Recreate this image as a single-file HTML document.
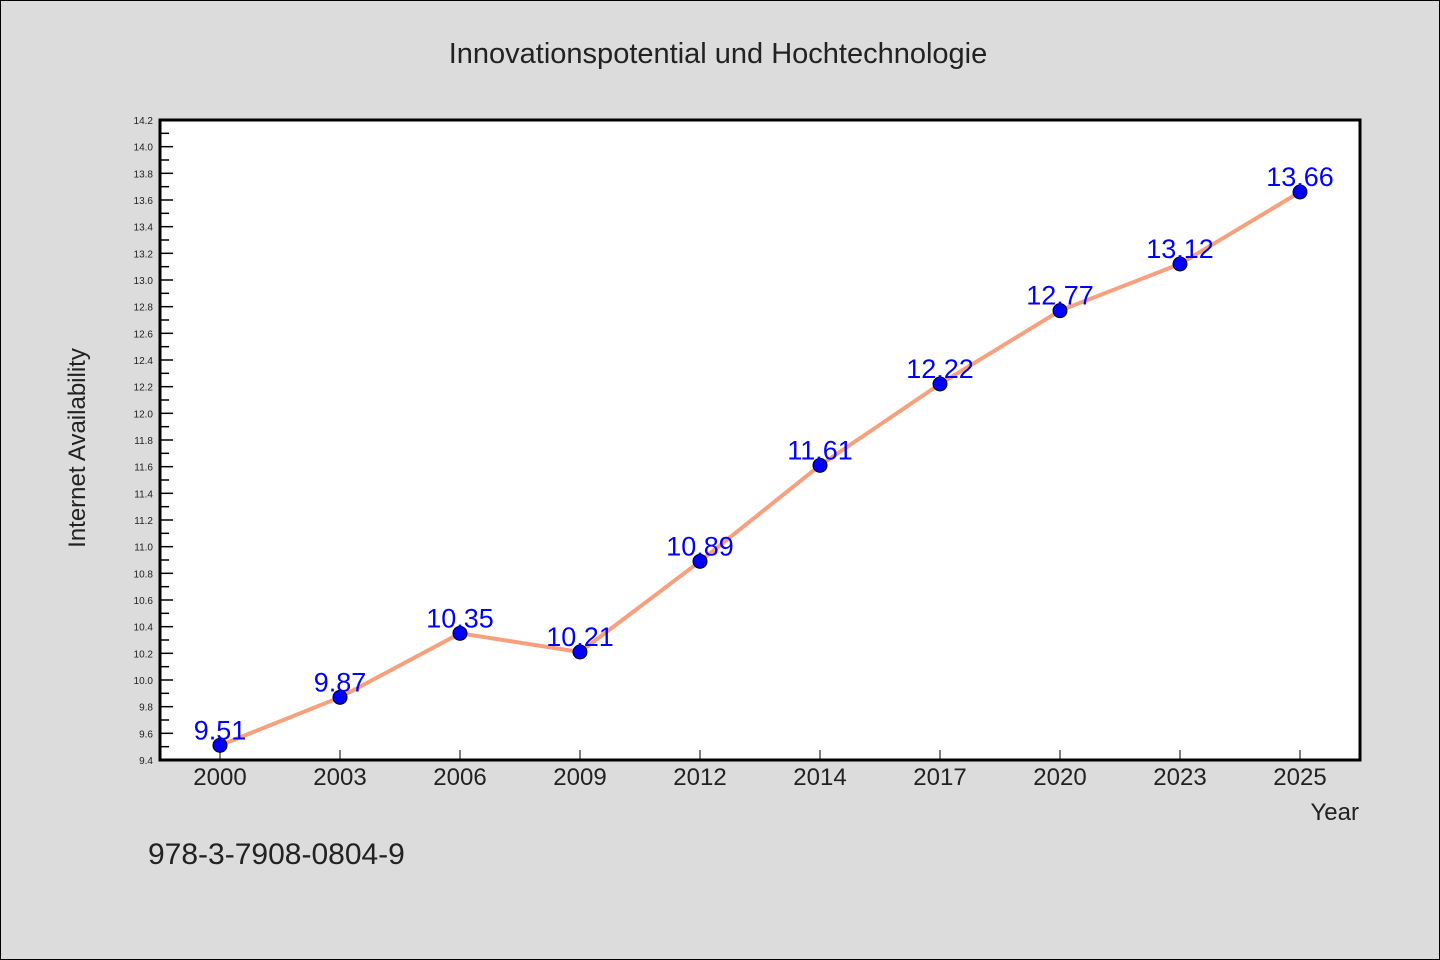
<!DOCTYPE html>
<html><head><meta charset="utf-8"><style>
html,body{margin:0;padding:0;background:#dcdcdc;}
svg{display:block;font-family:"WenQuanYi Zen Hei","Liberation Sans",sans-serif;}
</style></head><body>
<svg id="chart" width="1440" height="960">
<rect x="0.5" y="0.5" width="1439" height="959" fill="#dcdcdc" stroke="#000"/>
<text x="718" y="63" text-anchor="middle" font-size="29" fill="#222">Innovationspotential und Hochtechnologie</text>
<rect x="160" y="120" width="1200" height="640" fill="#fff" stroke="#000" stroke-width="3"/>
<g id="yticks"></g>
<g id="xticks"></g>
<g id="series"></g>
<text transform="translate(85,448) rotate(-90)" text-anchor="middle" font-size="24" fill="#222">Internet Availability</text>
<text x="1359" y="820" text-anchor="end" font-size="24" fill="#222">Year</text>
<text x="148" y="864" font-size="30" fill="#222">978-3-7908-0804-9</text>
</svg>
<script>
const categories=["2000","2003","2006","2009","2012","2014","2017","2020","2023","2025"];
const values=[9.51,9.87,10.35,10.21,10.89,11.61,12.22,12.77,13.12,13.66];
const yMin=9.4,yMax=14.2;
const NS="http://www.w3.org/2000/svg";
const L=160,R=1360,T=120,B=760;
const step=(R-L)/categories.length;
const xs=i=>L+step*(i+0.5);
const ys=v=>B-(v-yMin)/(yMax-yMin)*(B-T);
function mk(t,a,p){const e=document.createElementNS(NS,t);for(const k in a)e.setAttribute(k,a[k]);p.appendChild(e);return e;}
const yt=document.getElementById('yticks');
for(let k=0;k<=48;k++){
  const v=yMin+k*0.1,y=ys(v),major=k%2===0;
  const ln=mk('line',{x1:L,x2:L+(major?13:9),y1:y,y2:y,stroke:'#000','stroke-width':1.5},yt);
  
  
  if(major){
    const t=mk('text',{x:153,y:y+4,'text-anchor':'end','font-size':10,fill:'#222'},yt);
    t.textContent=v.toFixed(1);
    
    
  }
}
const xt=document.getElementById('xticks');
categories.forEach((c,i)=>{
  const x=xs(i);
  const ln=mk('line',{x1:x,x2:x,y1:B,y2:B-10,stroke:'#000','stroke-width':1},xt);
  
  
  const t=mk('text',{x:x,y:785,'text-anchor':'middle','font-size':24,fill:'#222'},xt);
  t.textContent=c;
  
  
});
const s=document.getElementById('series');
const pl=mk('polyline',{points:values.map((v,i)=>xs(i)+','+ys(v)).join(' '),fill:'none',stroke:'#f7a07e','stroke-width':4},s);


values.forEach((v,i)=>{
  const c=mk('circle',{cx:xs(i),cy:ys(v),r:7,fill:'#0000ff',stroke:'#000','stroke-width':1},s);
  
  
});
values.forEach((v,i)=>{
  const t=mk('text',{x:xs(i),y:ys(v)-6,'text-anchor':'middle','font-size':27,fill:'#0000ff'},s);
  t.textContent=v.toFixed(2);
  
  
});
</script>
</body></html>
